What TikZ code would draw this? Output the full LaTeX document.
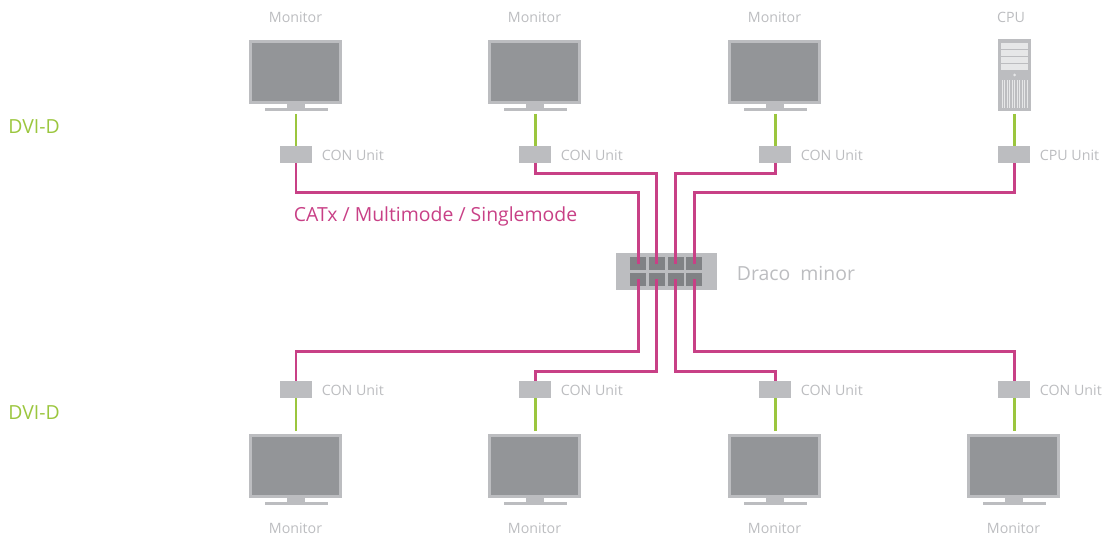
\documentclass[tikz,border=0pt]{standalone}
\usepackage{fontspec}
\setmainfont{Open Sans}
\usetikzlibrary{calc}
\definecolor{drGrey}   {RGB}{188,189,192}
\definecolor{drScreen} {RGB}{147,149,152}
\definecolor{drPort}   {RGB}{128,130,133}
\definecolor{drBay}    {RGB}{230,231,232}
\definecolor{drCat}    {RGB}{200, 64,134}
\definecolor{drDvi}    {RGB}{155,198, 62}
\tikzset{
  screen/.style={draw=drGrey,line width=1.8pt,fill=drScreen,inner sep=0pt,
                 minimum width=50.8pt,minimum height=34.8pt},
  unitbox/.style={fill=drGrey,inner sep=0pt,minimum width=18.2pt,minimum height=9.7pt},
  portbox/.style={fill=drPort,inner sep=0pt,minimum width=9.1pt,minimum height=7.4pt},
  catline/.style={drCat,line width=1.7pt},
  dviline/.style={drDvi,line width=1.7pt},
  lab/.style={font=\fontsize{8.1}{9}\selectfont,text=drGrey,inner sep=0pt},
  biglab/.style={font=\fontsize{11.05}{12}\selectfont,inner sep=0pt,anchor=west}
}
\begin{document}
\begin{tikzpicture}[x=0.02cm,y=-0.02cm]
\useasboundingbox (0,0) rectangle (1104,536);
% Top row: monitors with their units
\foreach \n/\x in {A/296,B/535,C/775}{
  \node[screen] (mon\n) at (\x-0.5,72) {};
  \fill[drGrey] (\x-9.5,104) rectangle ++(18,4);
  \fill[drGrey] (\x-31.5,108) rectangle ++(63,3);
  \coordinate (end\n) at (\x,114);
  \node[lab] (monlab\n) at (\x-0.5,17.5) {Monitor};
  \node[unitbox] (con\n) at (\x,154.5) {};
  \node[lab,anchor=west] (conlab\n) at (\x+25.5,155) {CON Unit};
}
% CPU tower
\node[fill=drGrey,inner sep=0pt,minimum width=18.8pt,minimum height=40.6pt] (cpu) at (1014.5,75) {};
\foreach \y/\h in {43/6.4,50.3/5.8,57/6,63.8/6.2}{
  \fill[drBay] (1001,\y) rectangle ++(27,\h);
}
\fill[drBay] (1014.5,75) circle (1.5);
\foreach \i in {0,...,10}{
  \draw[drBay,line width=0.3pt] (1002+\i*2.5,80) -- ++(0,28);
}
\coordinate (endD) at (1014,114);
\node[lab] (monlabD) at (1011,17.5) {CPU};
\node[unitbox] (conD) at (1014,154.5) {};
\node[lab,anchor=west] (conlabD) at (1039.5,155) {CPU Unit};
% Bottom row
\foreach \n/\x in {E/296,F/535,G/775,H/1014}{
  \node[screen] (mon\n) at (\x-0.5,466) {};
  \fill[drGrey] (\x-9.5,498) rectangle ++(18,4);
  \fill[drGrey] (\x-31.5,502) rectangle ++(63,3);
  \coordinate (end\n) at (\x,431);
  \node[lab] (monlab\n) at (\x-0.5,528.5) {Monitor};
  \node[unitbox] (con\n) at (\x,389.5) {};
  \node[lab,anchor=west] (conlab\n) at (\x+25.5,390) {CON Unit};
}
% Switch and its ports
\node[fill=drGrey,inner sep=0pt,minimum width=57.5pt,minimum height=21pt] (draco) at (666.5,271.5) {};
\foreach \n/\m/\x in {A/E/638,B/F/656.5,C/G/675.5,D/H/694}{
  \node[portbox] (port\n) at (\x,264) {};
  \node[portbox] (port\m) at (\x,279.5) {};
}
% DVI links
\foreach \n in {A,B,C,D}{
  \draw[dviline] (end\n) -- (con\n.north);
}
\foreach \n in {E,F,G,H}{
  \draw[dviline] (end\n) -- (con\n.south);
}
% CATx links
\draw[catline] (conA.south) -- ++(0,29) -| (portA.center);
\draw[catline] (conB.south) -- ++(0,10) -| (portB.center);
\draw[catline] (conC.south) -- ++(0,10) -| (portC.center);
\draw[catline] (conD.south) -- ++(0,29) -| (portD.center);
\draw[catline] (conE.north) -- ++(0,-29.5) -| (portE.center);
\draw[catline] (conF.north) -- ++(0,-9) -| (portF.center);
\draw[catline] (conG.north) -- ++(0,-9) -| (portG.center);
\draw[catline] (conH.north) -- ++(0,-29.5) -| (portH.center);
% Labels
\node[biglab,text=drDvi] (dvitop) at (8,127) {DVI-D};
\node[biglab,text=drDvi] (dvibot) at (8,413) {DVI-D};
\node[biglab,text=drCat] (catlab) at (293.5,216.5) {CATx / Multimode / Singlemode};
\node[biglab,text=drGrey] (dracolab) at (736.5,273.5) {Draco\ \ minor};
\end{tikzpicture}
\end{document}
